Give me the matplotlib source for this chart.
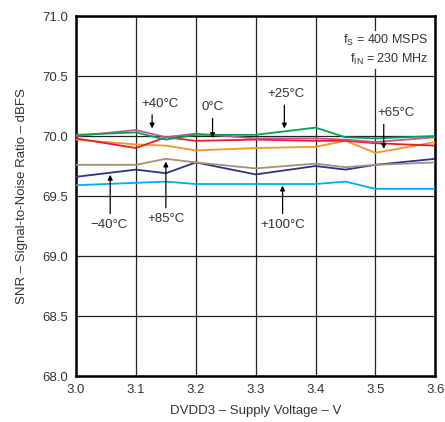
import matplotlib
matplotlib.use("Agg")
import matplotlib.pyplot as plt

# supply voltage (V)
dvdd3 = [3.0, 3.1, 3.15, 3.2, 3.3, 3.4, 3.45, 3.5, 3.6]

# SNR (dBFS) per temperature
snr_m40 = [69.66, 69.72, 69.69, 69.78, 69.68, 69.75, 69.72, 69.76, 69.81]
snr_0 = [69.98, 69.90, 69.99, 69.96, 69.97, 69.96, 69.96, 69.94, 69.92]
snr_25 = [70.01, 70.03, 69.97, 70.01, 70.01, 70.07, 69.99, 69.98, 70.00]
snr_40 = [70.00, 70.05, 69.99, 70.02, 69.98, 69.98, 69.97, 69.95, 69.99]
snr_65 = [69.97, 69.93, 69.92, 69.88, 69.90, 69.91, 69.96, 69.86, 69.95]
snr_85 = [69.76, 69.76, 69.81, 69.78, 69.73, 69.77, 69.74, 69.76, 69.78]
snr_100 = [69.59, 69.61, 69.62, 69.60, 69.60, 69.60, 69.62, 69.56, 69.56]

x_ticks = [3.0, 3.1, 3.2, 3.3, 3.4, 3.5, 3.6]
y_ticks = [68.0, 68.5, 69.0, 69.5, 70.0, 70.5, 71.0]

txt = "#333333"
plt.rcParams["font.family"] = ["Liberation Sans", "DejaVu Sans"]

fig = plt.figure(figsize=(4.45, 4.22), dpi=100)
ax = fig.add_axes([0.171, 0.109, 0.807, 0.853])

series = [
    (snr_100, "#00aeef"),
    (snr_m40, "#2e3192"),
    (snr_85, "#a89078"),
    (snr_65, "#f7941d"),
    (snr_0, "#ed1c24"),
    (snr_40, "#c8509a"),
    (snr_25, "#00a651"),
]
for vals, col in series:
    ax.plot(dvdd3, vals, color=col, lw=1.3, zorder=3)

ax.set_xlim(3.0, 3.6)
ax.set_ylim(68.0, 71.0)
ax.set_xticks(x_ticks)
ax.set_yticks(y_ticks)
ax.set_xticklabels(["%.1f" % v for v in x_ticks])
ax.set_yticklabels(["%.1f" % v for v in y_ticks])
ax.grid(True, color="#222222", lw=0.9, zorder=1)
ax.tick_params(length=0, labelsize=9.5, colors=txt, pad=6)
for s in ax.spines.values():
    s.set_linewidth(1.8)
    s.set_color("black")

ax.set_xlabel("DVDD3 \u2013 Supply Voltage \u2013 V", fontsize=9.5, color=txt, labelpad=6)
ax.set_ylabel("SNR \u2013 Signal-to-Noise Ratio \u2013 dBFS", fontsize=9.5, color=txt, labelpad=10)

ax.text(3.588, 70.86, "f$_\\mathregular{S}$ = 400 MSPS\nf$_\\mathregular{IN}$ = 230 MHz",
        ha="right", va="top", fontsize=9, color=txt, linespacing=1.4,
        bbox=dict(facecolor="white", edgecolor="none", pad=1), zorder=4)

arrow = dict(arrowstyle="-|>", color="black", lw=0.9, mutation_scale=7)
labels = [
    ("+40\u00b0C", (3.127, 70.04), (3.14, 70.20)),
    ("0\u00b0C", (3.228, 69.96), (3.228, 70.17)),
    ("+25\u00b0C", (3.348, 70.04), (3.35, 70.28)),
    ("+65\u00b0C", (3.514, 69.87), (3.535, 70.12)),
    ("\u221240\u00b0C", (3.057, 69.70), (3.055, 69.33)),
    ("+85\u00b0C", (3.15, 69.81), (3.15, 69.38)),
    ("+100\u00b0C", (3.345, 69.61), (3.345, 69.33)),
]
for lab, tip, pos in labels:
    up = pos[1] > tip[1]
    ax.annotate("", xy=tip, xytext=(tip[0], pos[1]),
                arrowprops=arrow, zorder=5)
    ax.text(pos[0], pos[1] + (0.02 if up else -0.02), lab, ha="center",
            va="bottom" if up else "top", fontsize=9.5, color=txt, zorder=5)

fig.savefig("out.png", dpi=100)
